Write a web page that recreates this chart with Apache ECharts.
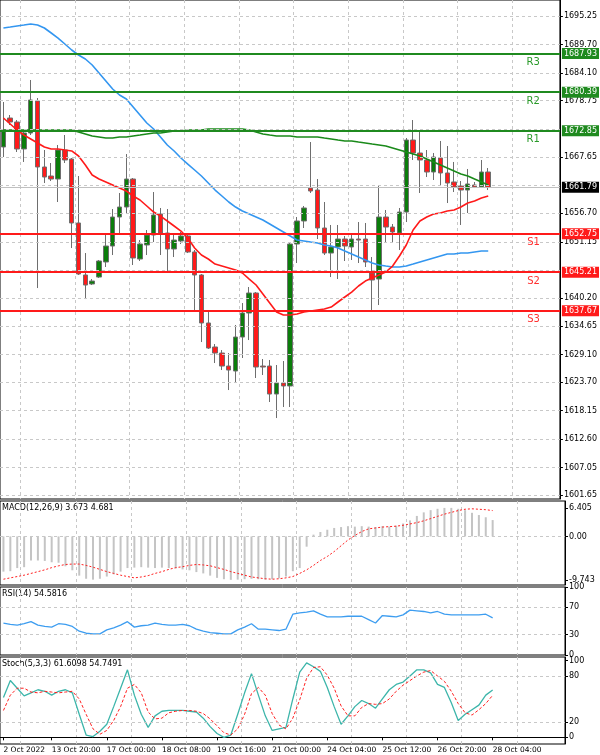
<!DOCTYPE html>
<html>
<head>
<meta charset="utf-8">
<script src="https://cdn.jsdelivr.net/npm/echarts@6/dist/echarts.min.js"></script>
<style>
  html, body { margin: 0; padding: 0; background: #fff; }
  #chart { width: 600px; height: 755px; }
</style>
</head>
<body>
<div id="chart"></div>
<script>
// H4 bars
const open = [1669.68,1675.34,1674.56,1669.29,1672.41,1678.67,1665.77,1664.01,1663.42,1669.09,
  1667.33,1654.83,1644.67,1642.91,1644.27,1647.21,1650.33,1656.0,1657.95,1663.42,
  1647.79,1650.53,1652.48,1656.58,1652.87,1649.75,1651.31,1652.29,1649.16,1644.67,
  1635.29,1630.6,1629.42,1626.88,1625.91,1632.55,1637.24,1641.15,1626.88,1626.88,
  1621.41,1623.56,1622.98,1650.72,1655.22,1661.66,1661.27,1653.85,1648.96,1650.14,
  1651.7,1650.14,1651.7,1651.7,1645.06,1643.88,1656.0,1654.04,1652.87,1656.97,
  1671.04,1668.5,1667.14,1664.79,1667.53,1664.6,1662.84,1662.06,1661.27,1662.25,
  1661.86,1664.79];
const close = [1673.0,1674.56,1669.29,1672.41,1678.86,1665.77,1663.81,1663.42,1669.09,1667.14,
  1654.83,1644.86,1642.71,1643.49,1647.4,1650.33,1656.0,1657.95,1663.42,1647.99,
  1650.72,1652.48,1656.39,1652.87,1649.75,1651.5,1652.29,1649.16,1644.67,1635.29,
  1630.4,1629.42,1626.88,1626.1,1632.55,1637.24,1641.15,1626.69,1626.69,1621.41,
  1623.56,1622.98,1650.72,1655.22,1657.76,1661.08,1653.85,1648.96,1650.14,1651.7,
  1650.33,1651.7,1651.5,1647.21,1643.69,1656.0,1654.04,1653.07,1656.97,1671.04,
  1668.5,1667.14,1664.79,1667.72,1664.6,1662.64,1661.86,1661.27,1662.45,1661.86,
  1664.79,1661.79];
const low = [1667.72,1673.98,1668.7,1666.75,1672.02,1642.12,1662.64,1663.03,1658.93,1666.55,
  1649.94,1644.67,1639.97,1642.71,1644.08,1646.23,1648.57,1652.87,1656.78,1646.62,
  1647.4,1648.57,1651.11,1648.57,1645.45,1648.18,1650.72,1648.96,1637.44,1631.57,
  1630.21,1627.47,1626.1,1622.19,1623.56,1628.45,1631.96,1624.54,1625.13,1619.85,
  1616.72,1618.87,1618.87,1647.01,1653.85,1660.69,1651.7,1648.57,1644.27,1643.88,
  1647.4,1647.6,1647.01,1646.23,1637.83,1638.8,1650.92,1650.92,1649.55,1655.02,
  1667.14,1660.69,1663.81,1663.23,1662.25,1658.73,1660.88,1654.44,1656.78,1661.66,
  1661.66,1661.27];
const high = [1678.47,1675.93,1674.95,1673.0,1682.77,1679.25,1669.09,1666.55,1670.07,1672.02,
  1667.53,1664.01,1648.96,1643.88,1647.6,1652.87,1657.56,1660.69,1668.3,1663.62,
  1651.5,1653.46,1660.88,1657.76,1657.56,1652.48,1653.07,1652.68,1649.55,1644.86,
  1637.63,1631.18,1630.0,1629.42,1634.9,1639.19,1642.32,1641.34,1628.25,1628.06,
  1627.08,1627.86,1650.92,1656.0,1658.15,1670.65,1663.42,1658.93,1654.44,1654.44,
  1652.29,1652.48,1655.02,1654.83,1648.18,1662.25,1657.37,1654.63,1657.76,1671.43,
  1674.95,1672.8,1669.09,1668.5,1670.85,1669.87,1666.75,1663.03,1665.38,1662.84,
  1667.14,1665.57];

const maFast = [1675.34,1674.17,1673.0,1672.02,1671.24,1670.46,1669.68,1669.29,1669.29,1669.09,
  1668.9,1667.92,1666.16,1664.2,1663.42,1662.84,1662.25,1661.66,1661.08,1660.1,
  1659.32,1658.15,1656.97,1656.19,1655.22,1654.24,1653.26,1651.89,1649.94,1648.57,
  1647.79,1646.81,1646.42,1646.03,1645.64,1645.06,1643.88,1642.71,1640.95,1639.19,
  1637.44,1636.85,1636.85,1637.04,1637.44,1637.63,1637.83,1638.02,1638.41,1639.39,
  1640.37,1641.34,1642.52,1643.49,1644.08,1644.67,1645.25,1646.42,1648.38,1650.53,
  1653.46,1655.22,1656.0,1656.58,1656.78,1657.17,1657.37,1657.95,1658.73,1659.13,
  1659.71,1660.1];
const maSlow = [1673.0,1673.0,1673.0,1673.0,1673.0,1673.0,1673.0,1673.0,1673.0,1673.0,
  1673.0,1672.61,1672.22,1671.83,1671.63,1671.43,1671.43,1671.63,1671.63,1671.83,
  1672.02,1672.22,1672.41,1672.41,1672.61,1672.8,1672.8,1673.0,1673.0,1673.0,
  1673.19,1673.19,1673.19,1673.19,1673.19,1673.19,1673.0,1672.61,1672.22,1672.02,
  1671.83,1671.83,1671.83,1671.63,1671.63,1671.63,1671.63,1671.43,1671.24,1671.04,
  1670.85,1670.85,1670.65,1670.46,1670.26,1670.07,1669.87,1669.48,1669.09,1668.7,
  1668.31,1667.92,1667.33,1666.75,1666.16,1665.57,1664.99,1664.4,1664.01,1663.42,
  1662.84,1662.25];
const maMid = [1692.93,1693.12,1693.32,1693.51,1693.71,1693.51,1692.93,1691.95,1690.97,1689.8,
  1688.63,1687.65,1686.87,1685.7,1684.14,1682.57,1681.01,1679.84,1679.06,1677.49,
  1675.93,1674.37,1673.19,1671.63,1670.07,1668.9,1667.53,1666.35,1665.18,1664.01,
  1662.64,1661.27,1660.1,1658.93,1657.95,1657.17,1656.58,1656.0,1655.41,1654.63,
  1653.85,1653.07,1652.29,1651.5,1651.31,1651.11,1650.92,1650.53,1650.33,1649.94,
  1649.36,1648.77,1648.18,1647.6,1647.01,1646.62,1646.42,1646.23,1646.23,1646.42,
  1646.81,1647.21,1647.6,1647.99,1648.38,1648.77,1648.77,1648.96,1648.96,1649.16,
  1649.36,1649.36];

const macdMain = [-7.9,-7.8,-7.1,-6.9,-5.4,-5.4,-5.5,-5.8,-5.9,-6.7,
  -7.6,-8.8,-9.5,-9.7,-9.5,-9.0,-8.5,-7.9,-7.1,-7.0,
  -6.9,-7.0,-7.1,-7.0,-7.1,-7.2,-7.4,-7.6,-8.0,-8.3,
  -8.8,-9.3,-9.6,-9.74,-9.7,-9.6,-9.5,-9.6,-9.7,-9.6,
  -9.4,-9.0,-7.8,-7.1,-2.3,0.4,1.0,1.5,1.9,2.1,
  2.3,2.2,2.3,2.2,2.1,2.3,2.2,2.4,2.9,3.6,
  4.6,5.4,5.9,6.2,6.4,6.405,6.2,5.9,5.3,4.8,
  4.3,3.673];
const macdSignal = [-9.6,-9.3,-9.0,-8.7,-8.3,-7.9,-7.5,-7.0,-6.6,-6.3,
  -6.2,-6.2,-6.5,-6.9,-7.4,-7.9,-8.3,-8.7,-9.0,-9.3,
  -9.1,-8.8,-8.3,-7.9,-7.4,-7.0,-6.8,-6.5,-6.3,-6.4,
  -6.6,-7.0,-7.4,-7.9,-8.3,-8.7,-9.1,-9.3,-9.5,-9.6,
  -9.5,-9.3,-9.0,-8.3,-7.5,-6.5,-5.4,-4.5,-3.4,-2.1,
  -0.8,0.2,1.1,1.7,1.9,2.1,2.2,2.3,2.5,2.8,
  3.1,3.5,4.0,4.5,5.0,5.4,5.8,6.1,6.2,6.1,
  6.0,5.8];
const rsi = [47,45,44,46,49,44,42,41,46,45,
  42,35,32,31,31,37,40,44,49,41,
  43,44,47,45,44,44,45,43,38,35,
  33,32,31,31,37,41,46,38,38,37,
  36,38,60,62,63,65,60,56,56,56,
  57,57,57,52,47,58,57,56,59,66,
  65,64,62,64,60,59,59,59,59,59,
  60,54.58];
const stochMain = [52,74,64,54,58,62,60,55,60,62,
  58,30,3,1,8,17,40,64,88,55,
  30,13,28,34,35,35,35,34,33,25,
  14,5,0,3,30,58,83,55,28,9,
  11,13,50,85,97,92,86,65,40,17,
  28,40,48,44,38,50,62,69,72,80,
  88,88,84,69,65,45,22,30,36,42,
  55,61.61];
const stochSignal = [35,55,64,64,59,58,60,59,58,59,
  60,50,30,11,4,9,22,40,64,69,
  58,33,24,25,32,34,35,35,34,31,
  24,15,6,3,11,30,57,65,55,31,
  16,11,25,49,77,91,92,81,64,41,
  28,28,39,44,43,44,50,60,68,74,
  80,85,87,80,73,60,44,32,29,36,
  44,54.75];

const resistance = [1672.85, 1680.39, 1687.93];
const resistanceNames = ['R1', 'R2', 'R3'];
const support = [1652.75, 1645.21, 1637.67];
const supportNames = ['S1', 'S2', 'S3'];
const lastPrice = 1661.79;

const priceGrid = [1601.65,1607.05,1612.60,1618.15,1623.70,1629.10,1634.65,1640.20,1645.60,1651.15,
  1656.70,1662.20,1667.65,1673.15,1678.75,1684.10,1689.70,1695.25];
const priceLabels = [1601.65,1607.05,1612.60,1618.15,1623.70,1629.10,1634.65,1640.20,1651.15,
  1656.70,1667.65,1678.75,1684.10,1689.70,1695.25];
const macdLabels = [-9.743, 0, 6.405];
const rsiLabels = [0, 30, 70, 100];
const stochLabels = [0, 20, 80, 100];

const timeLabels = ['2 Oct 2022','13 Oct 20:00','17 Oct 00:00','18 Oct 08:00','19 Oct 16:00',
  '21 Oct 00:00','24 Oct 04:00','25 Oct 12:00','26 Oct 20:00','28 Oct 04:00'];
const timeLabelBars = [0, 7, 15, 23, 31, 39, 47, 55, 63, 71];
const vGridBars = [3, 11, 19, 27, 35, 43, 51, 59, 67, 75];

const TOTAL = 82; // leave empty room right of the last bar
const cats = Array.from({ length: TOTAL }, (_, i) => String(i));
const FONT = 'DejaVu Sans';
const GREEN = '#0b7d0b';
const RED = '#ff1a1a';

const candles = open.map((o, i) => [o, close[i], low[i], high[i]]);

const chart = echarts.init(document.getElementById('chart'));

const grids = [
  { left: 0, right: 35, top: 0, height: 499 },
  { left: 0, right: 35, top: 501, height: 84 },
  { left: 0, right: 35, top: 587, height: 68 },
  { left: 0, right: 35, top: 657, height: 87 }
].map(g => Object.assign(g, { show: true, borderColor: '#000', borderWidth: 1 }));

const xAxes = grids.map((g, gi) => ({
  type: 'category',
  gridIndex: gi,
  data: cats,
  boundaryGap: true,
  axisLine: { show: gi === 3, lineStyle: { color: '#000' } },
  axisTick: { show: gi === 3, alignWithLabel: true, interval: (i) => timeLabelBars.includes(i), length: 3, lineStyle: { color: '#000' } },
  splitLine: { show: true, interval: (i) => vGridBars.includes(i), lineStyle: { color: '#c8c8c8', type: [3, 3] } },
  axisLabel: {
    show: gi === 3,
    interval: 0,
    align: 'left',
    margin: 2,
    fontFamily: FONT, fontSize: 7.5, color: '#000',
    formatter: (v, idx) => { const k = timeLabelBars.indexOf(idx); return k >= 0 ? timeLabels[k] : ''; }
  }
}));

function yAx(gi, min, max, labels, fmt) {
  return {
    type: 'value', gridIndex: gi, position: 'right', min, max, scale: true,
    axisLine: { show: true, lineStyle: { color: '#000' } },
    axisTick: { show: true, length: 3, customValues: labels, lineStyle: { color: '#000' } },
    splitLine: { show: false },
    axisLabel: { show: true, customValues: labels, margin: 4, fontFamily: FONT, fontSize: 8, color: '#000', formatter: fmt }
  };
}

const yAxes = [
  yAx(0, 1600.9, 1698.4, priceLabels, v => v.toFixed(2)),
  yAx(1, -10.9, 7.95, macdLabels, v => v === 0 ? '0.00' : v.toFixed(3)),
  yAx(2, 0, 100, rsiLabels, v => String(v)),
  yAx(3, -8.7, 104.7, stochLabels, v => String(v))
];

const priceBox = (val, bg) => ({
  yAxis: val,
  label: {
    show: true, position: 'end', distance: 2, formatter: val.toFixed(2),
    backgroundColor: bg, color: '#fff', fontFamily: FONT, fontSize: 8, padding: [2, 2, 1, 2]
  }
});
const levelName = (val, name, color) => ({
  yAxis: val,
  label: { show: true, position: 'insideEndBottom', distance: [20, 4], formatter: name, color, fontFamily: FONT, fontSize: 10 }
});

const nothing = cats.map(() => null);

const series = [
  {
    name: 'grid', type: 'line', xAxisIndex: 0, yAxisIndex: 0, data: nothing, z: 1, silent: true,
    markLine: {
      symbol: 'none', silent: true, animation: false, label: { show: false },
      lineStyle: { color: '#c8c8c8', type: [3, 3], width: 1 },
      data: priceGrid.map(v => ({ yAxis: v }))
    }
  },
  {
    name: 'last', type: 'line', xAxisIndex: 0, yAxisIndex: 0, data: nothing, z: 2, silent: true,
    markLine: {
      symbol: 'none', silent: true, animation: false,
      lineStyle: { color: '#c0c0c0', type: 'solid', width: 1 },
      data: [priceBox(lastPrice, '#000')]
    }
  },
  {
    name: 'price', type: 'candlestick', xAxisIndex: 0, yAxisIndex: 0, data: candles, barWidth: 5, z: 3,
    itemStyle: { color: GREEN, color0: RED, borderColor: '#6e6e6e', borderColor0: '#6e6e6e', borderWidth: 1 }
  },
  {
    name: 'ma mid', type: 'line', xAxisIndex: 0, yAxisIndex: 0, data: maMid, showSymbol: false, z: 4,
    lineStyle: { color: '#3396f0', width: 1.6 }
  },
  {
    name: 'ma slow', type: 'line', xAxisIndex: 0, yAxisIndex: 0, data: maSlow, showSymbol: false, z: 4,
    lineStyle: { color: '#1a8a1a', width: 1.6 }
  },
  {
    name: 'ma fast', type: 'line', xAxisIndex: 0, yAxisIndex: 0, data: maFast, showSymbol: false, z: 4,
    lineStyle: { color: '#ff1a1a', width: 1.6 }
  },
  {
    name: 'resistance', type: 'line', xAxisIndex: 0, yAxisIndex: 0, data: nothing, z: 5, silent: true,
    markLine: {
      symbol: 'none', silent: true, animation: false,
      lineStyle: { color: '#1f8a1f', type: 'solid', width: 2 },
      data: resistance.map(v => priceBox(v, '#1f8a1f'))
        .concat(resistance.map((v, i) => levelName(v, resistanceNames[i], '#2a9a2a')))
    }
  },
  {
    name: 'support', type: 'line', xAxisIndex: 0, yAxisIndex: 0, data: nothing, z: 5, silent: true,
    markLine: {
      symbol: 'none', silent: true, animation: false,
      lineStyle: { color: '#ff1a1a', type: 'solid', width: 2 },
      data: support.map(v => priceBox(v, '#ff1a1a'))
        .concat(support.map((v, i) => levelName(v, supportNames[i], '#ff3030')))
    }
  },
  {
    name: 'macd', type: 'bar', xAxisIndex: 1, yAxisIndex: 1, data: macdMain, barWidth: 2,
    itemStyle: { color: '#c4c4c4' },
    markLine: {
      symbol: 'none', silent: true, animation: false, label: { show: false },
      lineStyle: { color: '#c8c8c8', type: [3, 3], width: 1 }, data: [{ yAxis: 0 }]
    }
  },
  {
    name: 'macd signal', type: 'line', xAxisIndex: 1, yAxisIndex: 1, data: macdSignal, showSymbol: false,
    lineStyle: { color: '#ff2020', width: 1, type: [2, 2] }
  },
  {
    name: 'rsi', type: 'line', xAxisIndex: 2, yAxisIndex: 2, data: rsi, showSymbol: false,
    lineStyle: { color: '#3d9df0', width: 1.3 },
    markLine: {
      symbol: 'none', silent: true, animation: false, label: { show: false },
      lineStyle: { color: '#c8c8c8', type: [3, 3], width: 1 }, data: [{ yAxis: 30 }, { yAxis: 70 }]
    }
  },
  {
    name: 'stoch', type: 'line', xAxisIndex: 3, yAxisIndex: 3, data: stochMain, showSymbol: false,
    lineStyle: { color: '#3cb5aa', width: 1.3 },
    markLine: {
      symbol: 'none', silent: true, animation: false, label: { show: false },
      lineStyle: { color: '#c8c8c8', type: [3, 3], width: 1 }, data: [{ yAxis: 20 }, { yAxis: 80 }]
    }
  },
  {
    name: 'stoch signal', type: 'line', xAxisIndex: 3, yAxisIndex: 3, data: stochSignal, showSymbol: false,
    lineStyle: { color: '#ff2020', width: 1, type: [3, 2] }
  }
];

const panelText = (text, top) => ({
  type: 'text', left: 2, top,
  style: { text, fill: '#000', font: '8px "DejaVu Sans"' }
});

chart.setOption({
  animation: false,
  backgroundColor: '#fff',
  grid: grids,
  xAxis: xAxes,
  yAxis: yAxes,
  series,
  graphic: [
    panelText('MACD(12,26,9) 3.673 4.681', 504),
    panelText('RSI(14) 54.5816', 590),
    panelText('Stoch(5,3,3) 61.6098 54.7491', 660)
  ]
});
</script>
</body>
</html>
